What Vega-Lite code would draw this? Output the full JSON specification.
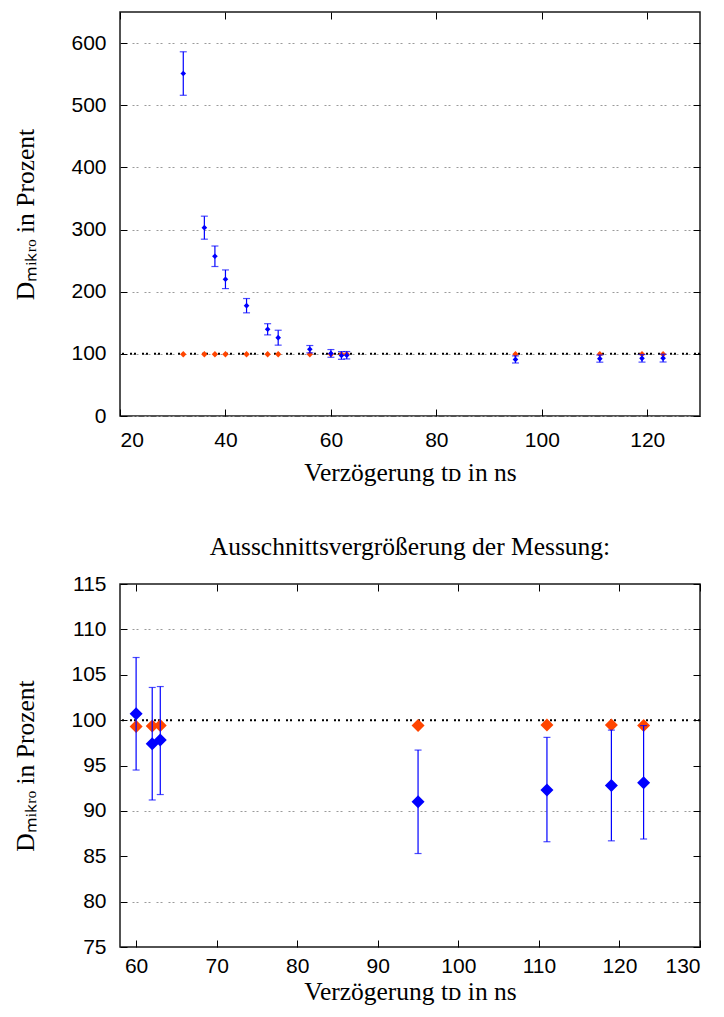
{
  "$schema": "https://vega.github.io/schema/vega-lite/v6.json",
  "padding": {"left": 12, "top": 10, "right": 5, "bottom": 5},
  "spacing": 46,
  "datasets": {
    "messung": [
      {"t": 32, "d_mess": 551, "lo": 516, "hi": 586, "d_ref": 99.4},
      {"t": 36, "d_mess": 303, "lo": 284.5, "hi": 321.5, "d_ref": 99.4},
      {"t": 38, "d_mess": 257, "lo": 240.5, "hi": 273.5, "d_ref": 99.4},
      {"t": 40, "d_mess": 220, "lo": 205, "hi": 235, "d_ref": 99.4},
      {"t": 44, "d_mess": 177.5, "lo": 166, "hi": 189, "d_ref": 99.4},
      {"t": 48, "d_mess": 139.5, "lo": 130.5, "hi": 148.5, "d_ref": 99.4},
      {"t": 50, "d_mess": 126, "lo": 114, "hi": 138, "d_ref": 99.4},
      {"t": 56, "d_mess": 107.4, "lo": 101.6, "hi": 113.4, "d_ref": 99.4},
      {"t": 60, "d_mess": 100.7, "lo": 94.5, "hi": 106.9, "d_ref": 99.3},
      {"t": 62, "d_mess": 97.4, "lo": 91.2, "hi": 103.6, "d_ref": 99.35},
      {"t": 63, "d_mess": 97.8, "lo": 91.8, "hi": 103.7, "d_ref": 99.4},
      {"t": 95, "d_mess": 91.0, "lo": 85.3, "hi": 96.7, "d_ref": 99.4},
      {"t": 111, "d_mess": 92.3, "lo": 86.6, "hi": 98.1, "d_ref": 99.45},
      {"t": 119, "d_mess": 92.8, "lo": 86.7, "hi": 98.9, "d_ref": 99.45},
      {"t": 123, "d_mess": 93.1, "lo": 86.9, "hi": 99.4, "d_ref": 99.4}
    ],
    "linie": [{"linie": 100}]
  },
  "config": {
    "view": {"stroke": "#1a1a1a", "strokeWidth": 1.5},
    "axis": {
      "labelFont": "Liberation Sans", "labelFontSize": 21, "labelColor": "black",
      "titleFont": "Liberation Serif", "titleFontSize": 25.5, "titleFontWeight": "normal", "titleColor": "black",
      "domain": false, "tickColor": "black", "tickWidth": 1,
      "gridColor": "#9a9a9a", "gridDash": [2, 2, 2, 6], "gridWidth": 1
    },
    "title": {"font": "Liberation Serif", "fontSize": 25.5, "fontWeight": "normal", "color": "black"}
  },
  "vconcat": [
    {
      "width": 580, "height": 404,
      "resolve": {"axis": {"x": "independent", "y": "independent"}},
      "layer": [
        {
          "data": {"name": "linie"},
          "mark": {"type": "rule", "color": "black", "strokeWidth": 2, "strokeDash": [2, 2, 2, 6]},
          "encoding": {
            "y": {"field": "linie", "type": "quantitative", "scale": {"domain": [0, 650], "nice": false, "zero": false}, "axis": null}
          }
        },
        {
          "data": {"name": "messung"},
          "mark": {"type": "point", "shape": "diamond", "filled": true, "color": "#ff4500", "size": 40, "opacity": 1},
          "encoding": {
            "x": {"field": "t", "type": "quantitative", "scale": {"domain": [20, 130], "nice": false, "zero": false}, "axis": null},
            "y": {"field": "d_ref", "type": "quantitative", "scale": {"domain": [0, 650], "nice": false, "zero": false}, "axis": null}
          }
        },
        {
          "data": {"name": "messung"},
          "mark": {"type": "rule", "color": "#0000ff", "strokeWidth": 1.2},
          "encoding": {
            "x": {"field": "t", "type": "quantitative", "scale": {"domain": [20, 130], "nice": false, "zero": false},
              "axis": {"orient": "bottom", "values": [20, 40, 60, 80, 100, 120], "tickSize": -7, "labelPadding": 20, "grid": false,
                "title": "Verzögerung tᴅ in ns", "titleY": 44, "titleBaseline": "top"}},
            "y": {"field": "lo", "type": "quantitative", "scale": {"domain": [0, 650], "nice": false, "zero": false},
              "axis": {"orient": "left", "values": [0, 100, 200, 300, 400, 500, 600], "tickSize": -7, "labelPadding": 21, "grid": true,
                "title": "Dₘᵢₖᵣₒ in Prozent", "titleX": -82}},
            "y2": {"field": "hi"}
          }
        },
        {
          "data": {"name": "messung"},
          "mark": {"type": "tick", "orient": "horizontal", "color": "#0000ff", "size": 7, "thickness": 1.2},
          "encoding": {
            "x": {"field": "t", "type": "quantitative", "scale": {"domain": [20, 130], "nice": false, "zero": false}, "axis": null},
            "y": {"field": "lo", "type": "quantitative", "scale": {"domain": [0, 650], "nice": false, "zero": false}, "axis": null}
          }
        },
        {
          "data": {"name": "messung"},
          "mark": {"type": "tick", "orient": "horizontal", "color": "#0000ff", "size": 7, "thickness": 1.2},
          "encoding": {
            "x": {"field": "t", "type": "quantitative", "scale": {"domain": [20, 130], "nice": false, "zero": false}, "axis": null},
            "y": {"field": "hi", "type": "quantitative", "scale": {"domain": [0, 650], "nice": false, "zero": false}, "axis": null}
          }
        },
        {
          "data": {"name": "messung"},
          "mark": {"type": "point", "shape": "diamond", "filled": true, "color": "#0000ff", "size": 32, "opacity": 1},
          "encoding": {
            "x": {"field": "t", "type": "quantitative", "scale": {"domain": [20, 130], "nice": false, "zero": false},
              "axis": {"orient": "top", "values": [20, 40, 60, 80, 100, 120], "tickSize": -7, "labels": false, "grid": false, "title": null}},
            "y": {"field": "d_mess", "type": "quantitative", "scale": {"domain": [0, 650], "nice": false, "zero": false},
              "axis": {"orient": "right", "values": [0, 100, 200, 300, 400, 500, 600], "tickSize": -7, "labels": false, "grid": false, "title": null}}
          }
        }
      ]
    },
    {
      "width": 580, "height": 363,
      "title": {"text": "Ausschnittsvergrößerung der Messung:", "frame": "group", "anchor": "middle", "offset": 13},
      "resolve": {"axis": {"x": "independent", "y": "independent"}},
      "layer": [
        {
          "data": {"name": "linie"},
          "mark": {"type": "rule", "color": "black", "strokeWidth": 2, "strokeDash": [2, 2, 2, 6]},
          "encoding": {
            "y": {"field": "linie", "type": "quantitative", "scale": {"domain": [75, 115], "nice": false, "zero": false}, "axis": null}
          }
        },
        {
          "data": {"name": "messung"},
          "transform": [{"filter": "datum.t >= 58"}],
          "mark": {"type": "point", "shape": "diamond", "filled": true, "color": "#ff4500", "size": 169, "opacity": 1},
          "encoding": {
            "x": {"field": "t", "type": "quantitative", "scale": {"domain": [58, 130], "nice": false, "zero": false}, "axis": null},
            "y": {"field": "d_ref", "type": "quantitative", "scale": {"domain": [75, 115], "nice": false, "zero": false},
              "axis": {"orient": "left", "values": [80, 90, 110], "grid": true, "ticks": false, "labels": false, "domain": false, "title": null}}
          }
        },
        {
          "data": {"name": "messung"},
          "transform": [{"filter": "datum.t >= 58"}],
          "mark": {"type": "rule", "color": "#0000ff", "strokeWidth": 1.2},
          "encoding": {
            "x": {"field": "t", "type": "quantitative", "scale": {"domain": [58, 130], "nice": false, "zero": false},
              "axis": {"orient": "bottom", "values": [60, 70, 80, 90, 100, 110, 120, 130], "tickSize": -7, "labelPadding": 15, "grid": false,
                "title": "Verzögerung tᴅ in ns", "titleY": 32, "titleBaseline": "top"}},
            "y": {"field": "lo", "type": "quantitative", "scale": {"domain": [75, 115], "nice": false, "zero": false},
              "axis": {"orient": "left", "values": [75, 80, 85, 90, 95, 100, 105, 110, 115], "tickSize": -7, "labelPadding": 21, "grid": false,
                "title": "Dₘᵢₖᵣₒ in Prozent", "titleX": -82}},
            "y2": {"field": "hi"}
          }
        },
        {
          "data": {"name": "messung"},
          "transform": [{"filter": "datum.t >= 58"}],
          "mark": {"type": "tick", "orient": "horizontal", "color": "#0000ff", "size": 7, "thickness": 1.2},
          "encoding": {
            "x": {"field": "t", "type": "quantitative", "scale": {"domain": [58, 130], "nice": false, "zero": false}, "axis": null},
            "y": {"field": "lo", "type": "quantitative", "scale": {"domain": [75, 115], "nice": false, "zero": false}, "axis": null}
          }
        },
        {
          "data": {"name": "messung"},
          "transform": [{"filter": "datum.t >= 58"}],
          "mark": {"type": "tick", "orient": "horizontal", "color": "#0000ff", "size": 7, "thickness": 1.2},
          "encoding": {
            "x": {"field": "t", "type": "quantitative", "scale": {"domain": [58, 130], "nice": false, "zero": false}, "axis": null},
            "y": {"field": "hi", "type": "quantitative", "scale": {"domain": [75, 115], "nice": false, "zero": false}, "axis": null}
          }
        },
        {
          "data": {"name": "messung"},
          "transform": [{"filter": "datum.t >= 58"}],
          "mark": {"type": "point", "shape": "diamond", "filled": true, "color": "#0000ff", "size": 169, "opacity": 1},
          "encoding": {
            "x": {"field": "t", "type": "quantitative", "scale": {"domain": [58, 130], "nice": false, "zero": false},
              "axis": {"orient": "top", "values": [60, 70, 80, 90, 100, 110, 120, 130], "tickSize": -7, "labels": false, "grid": false, "title": null}},
            "y": {"field": "d_mess", "type": "quantitative", "scale": {"domain": [75, 115], "nice": false, "zero": false},
              "axis": {"orient": "right", "values": [75, 80, 85, 90, 95, 100, 105, 110, 115], "tickSize": -7, "labels": false, "grid": false, "title": null}}
          }
        }
      ]
    }
  ]
}
